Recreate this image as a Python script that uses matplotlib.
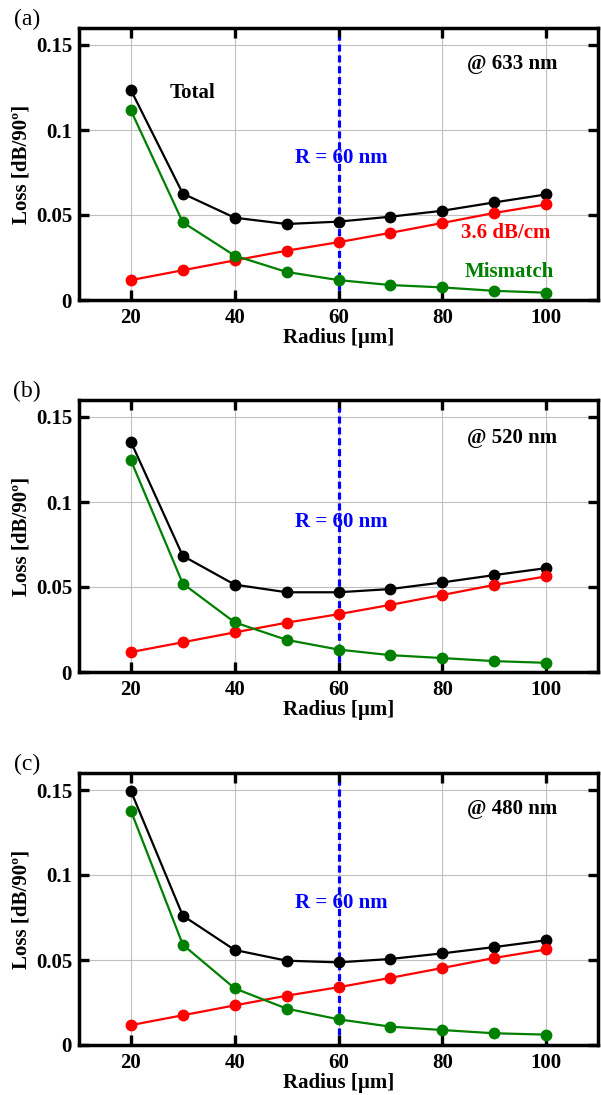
import numpy as np
import matplotlib
matplotlib.use("Agg")
import matplotlib.pyplot as plt
from matplotlib.ticker import FuncFormatter

plt.rcParams['font.family'] = ['Liberation Serif', 'DejaVu Serif']
plt.rcParams['font.weight'] = 'bold'

radius = [20, 30, 40, 50, 60, 70, 80, 90, 100]

# propagation loss (3.6 dB/cm), same for every wavelength
prop_loss = [0.0117, 0.0175, 0.0233, 0.029, 0.034, 0.0395, 0.0453, 0.0512, 0.0562]

total_633 = [0.1235, 0.0626, 0.0484, 0.0447, 0.0461, 0.049, 0.0525, 0.0574, 0.0621]
mismatch_633 = [0.1115, 0.0457, 0.0261, 0.0165, 0.0117, 0.0088, 0.0074, 0.0054, 0.0043]

total_520 = [0.1354, 0.0683, 0.0514, 0.0469, 0.0469, 0.0488, 0.0527, 0.057, 0.0611]
mismatch_520 = [0.1245, 0.052, 0.0292, 0.0189, 0.0132, 0.0099, 0.0082, 0.0064, 0.0054]

total_480 = [0.1494, 0.0761, 0.0559, 0.0496, 0.0486, 0.0506, 0.0539, 0.0576, 0.0616]
mismatch_480 = [0.1378, 0.059, 0.0333, 0.0214, 0.0151, 0.0108, 0.0088, 0.0069, 0.0061]

panels = [
    ("(a)", "@ 633 nm", total_633, mismatch_633, 0.139, 0.0835, True),
    ("(b)", "@ 520 nm", total_520, mismatch_520, 0.1375, 0.088, False),
    ("(c)", "@ 480 nm", total_480, mismatch_480, 0.139, 0.0837, False),
]

GREEN = "#008000"
FS = 15

fig = plt.figure(figsize=(6.01, 10.95), dpi=100)
bottoms = [1 - 300 / 1095, 1 - 672 / 1095, 1 - 1045 / 1095]
height = 272 / 1095

for (tag, wl, total, mism, wl_y, r_y, labels), b in zip(panels, bottoms):
    ax = fig.add_axes([79 / 601, b, 519 / 601, height])
    ax.grid(True, color="#c0c0c0", lw=0.8)
    ax.set_axisbelow(True)

    ax.vlines(60, 0.006, 0.155, colors="#0000ff", linestyles=(0, (2.2, 1.2)), lw=2.3, zorder=3)
    ax.plot(radius, total, "-o", color="black", lw=1.6, ms=7.5, zorder=4)
    ax.plot(radius, prop_loss, "-o", color="#ff0000", lw=1.6, ms=7.5, zorder=4)
    ax.plot(radius, mism, "-o", color=GREEN, lw=1.6, ms=7.5, zorder=4)

    ax.set_xlim(10, 110)
    ax.set_ylim(0, 0.16)
    ax.set_xticks([20, 40, 60, 80, 100])
    ax.set_yticks([0, 0.05, 0.1, 0.15])
    ax.yaxis.set_major_formatter(FuncFormatter(lambda v, p: "%g" % round(v, 3)))
    ax.tick_params(direction="in", length=7, width=2.4, top=True, right=True,
                   labelsize=FS)
    ax.tick_params(axis="x", pad=6)
    ax.tick_params(axis="y", pad=5)
    for lab in ax.get_xticklabels() + ax.get_yticklabels():
        lab.set_fontweight("bold")
    for s in ax.spines.values():
        s.set_linewidth(2.5)

    ax.set_xlabel("Radius [µm]", fontsize=FS, fontweight="bold", labelpad=0)
    ax.set_ylabel("Loss [dB/90º]", fontsize=FS, fontweight="bold", labelpad=3)

    ax.text(93.4, wl_y, wl, ha="center", va="center",
            fontsize=FS, fontweight="bold", color="black")
    ax.text(60.5, r_y, "R = 60 nm", ha="center", va="center",
            fontsize=FS, fontweight="bold", color="#0000ff")
    if labels:
        ax.text(31.8, 0.122, "Total", ha="center", va="center",
                fontsize=FS, fontweight="bold", color="black")
        ax.text(92.3, 0.0394, "3.6 dB/cm", ha="center", va="center",
                fontsize=FS, fontweight="bold", color="#ff0000")
        ax.text(92.9, 0.0165, "Mismatch", ha="center", va="center",
                fontsize=FS, fontweight="bold", color=GREEN)

    fig.text(27 / 601, b + height + 9 / 1095, tag, ha="center", va="center",
             fontsize=17, fontweight="normal")

fig.savefig("out.png", dpi=100)
